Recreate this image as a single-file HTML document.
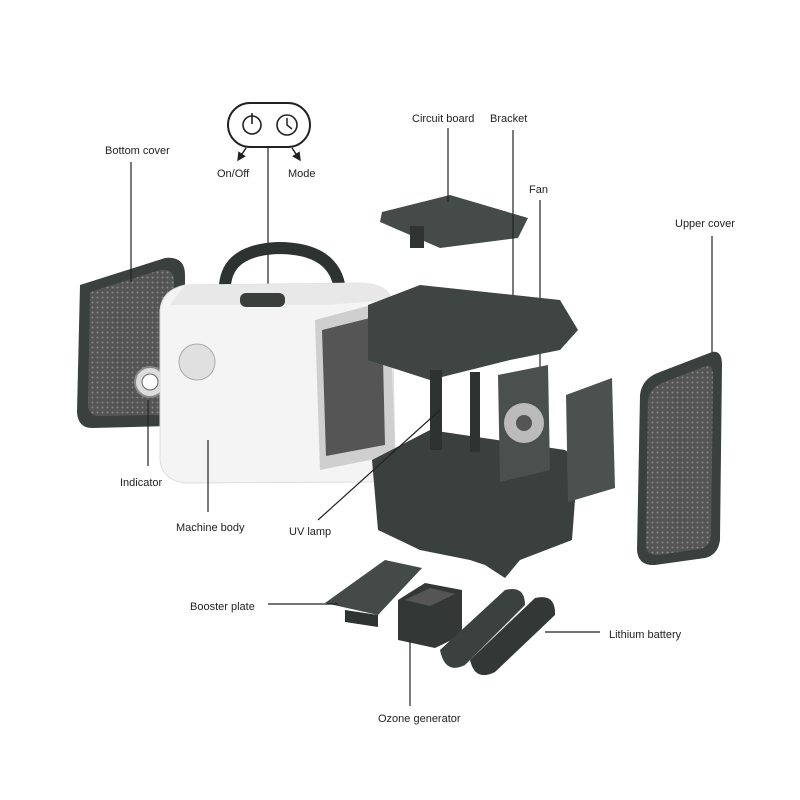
<!DOCTYPE html>
<html><head><meta charset="utf-8"><style>
html,body{margin:0;padding:0;background:#fff;}
svg{display:block}
text{font-family:"Liberation Sans",sans-serif;font-size:11px;fill:#222;}
</style></head><body>
<svg width="800" height="800" viewBox="0 0 800 800" xmlns="http://www.w3.org/2000/svg">
<defs>
<pattern id="mesh" width="5" height="5" patternUnits="userSpaceOnUse"><rect width="5" height="5" fill="#555"/><circle cx="2.5" cy="2.5" r="1" fill="#888"/></pattern>
<marker id="ar" markerWidth="6" markerHeight="6" refX="5" refY="3" orient="auto"><path d="M0,0 L6,3 L0,6 z" fill="#222"/></marker>
</defs>

<!-- Button pill -->
<rect x="228" y="103" width="82" height="44" rx="22" fill="#fff" stroke="#222" stroke-width="2"/>
<circle cx="252" cy="125" r="9" fill="none" stroke="#222" stroke-width="1.6"/>
<line x1="252" y1="113" x2="252" y2="124" stroke="#222" stroke-width="1.6"/>
<circle cx="287" cy="125" r="10" fill="none" stroke="#222" stroke-width="1.6"/>
<path d="M287,118 V125 L292,129" fill="none" stroke="#222" stroke-width="1.5"/>
<line x1="246" y1="148" x2="238" y2="160" stroke="#222" stroke-width="1.5" marker-end="url(#ar)"/>
<line x1="292" y1="148" x2="300" y2="160" stroke="#222" stroke-width="1.5" marker-end="url(#ar)"/>
<text x="217" y="177">On/Off</text>
<text x="288" y="177">Mode</text>
<line x1="268" y1="147" x2="268" y2="296" stroke="#222" stroke-width="1.2"/>

<!-- Bottom cover -->
<path d="M80,285 L165,258 Q185,256 185,275 L185,410 Q183,425 170,426 L92,428 Q78,428 77,412 Z" fill="#3a403d"/>
<path d="M90,292 L160,270 Q174,268 174,282 L174,402 Q172,414 160,415 L100,416 Q88,416 88,404 Z" fill="url(#mesh)"/>
<text x="105" y="154">Bottom cover</text>
<line x1="131" y1="162" x2="131" y2="282" stroke="#222" stroke-width="1.2"/>
<circle cx="150" cy="382" r="15" fill="#ddd" stroke="#888" stroke-width="2"/>
<circle cx="150" cy="382" r="8" fill="#fff" stroke="#666"/>
<text x="120" y="486">Indicator</text>
<line x1="148" y1="400" x2="148" y2="466" stroke="#222" stroke-width="1.2"/>

<!-- Machine body -->
<path d="M225,285 Q228,250 278,248 Q335,248 340,290" fill="none" stroke="#2d3330" stroke-width="12"/>
<path d="M160,310 Q162,290 185,285 L360,283 Q388,284 392,300 L395,460 Q394,480 370,482 L185,483 Q162,480 160,460 Z" fill="#f4f4f4" stroke="#ddd"/>
<path d="M185,285 L360,283 Q388,284 392,300 L325,305 L170,305 Z" fill="#e8e8e8"/>
<path d="M315,320 L390,300 L395,455 L320,470 Z" fill="#cfcfcf"/>
<path d="M322,330 L382,315 L385,445 L326,456 Z" fill="#555"/>
<rect x="240" y="293" width="45" height="14" rx="6" fill="#3a3f3c"/>
<circle cx="197" cy="362" r="18" fill="#e0e0e0" stroke="#aaa"/>
<text x="176" y="531">Machine body</text>
<line x1="208" y1="440" x2="208" y2="512" stroke="#222" stroke-width="1.2"/>

<!-- Circuit board -->
<path d="M382,212 L450,195 L528,218 L518,238 L440,248 L380,222 Z" fill="#454b48"/>
<rect x="410" y="226" width="14" height="22" fill="#2f3432"/>
<text x="412" y="122">Circuit board</text>
<line x1="448" y1="128" x2="448" y2="202" stroke="#222" stroke-width="1.2"/>
<text x="490" y="122">Bracket</text>
<line x1="513" y1="130" x2="513" y2="300" stroke="#222" stroke-width="1.2"/>
<text x="529" y="193">Fan</text>
<line x1="540" y1="200" x2="540" y2="398" stroke="#222" stroke-width="1.2"/>

<!-- Main frame -->
<path d="M368,305 L420,285 L560,300 L578,330 L560,350 L510,360 L430,380 L368,360 Z" fill="#3f4542"/>
<path d="M372,460 L430,430 L565,450 L578,460 L572,540 L520,560 L505,578 L485,565 L470,560 L420,550 L378,530 Z" fill="#3a403d"/>
<rect x="430" y="370" width="12" height="80" fill="#2e3331"/>
<rect x="470" y="372" width="10" height="80" fill="#2e3331"/>
<path d="M498,375 L548,365 L550,470 L500,482 Z" fill="#4a504d"/>
<circle cx="524" cy="423" r="20" fill="#bbb"/>
<circle cx="524" cy="423" r="8" fill="#555"/>
<path d="M566,395 L612,378 L615,488 L568,502 Z" fill="#4b514e"/>
<text x="289" y="535">UV lamp</text>
<line x1="318" y1="520" x2="440" y2="410" stroke="#222" stroke-width="1.2"/>

<!-- Upper cover -->
<path d="M640,395 Q642,378 660,372 L712,352 Q722,350 722,365 L720,540 Q718,555 705,558 L655,565 Q638,566 637,550 Z" fill="#3a403d"/>
<path d="M648,400 Q650,388 662,383 L706,366 Q713,365 713,375 L711,535 Q710,547 700,549 L658,555 Q646,556 646,544 Z" fill="url(#mesh)"/>
<text x="675" y="227">Upper cover</text>
<line x1="712" y1="236" x2="712" y2="352" stroke="#222" stroke-width="1.2"/>

<!-- Booster plate -->
<path d="M325,603 L385,560 L422,568 L378,615 Z" fill="#444a47"/>
<path d="M345,610 L378,615 L378,627 L345,622 Z" fill="#2f3432"/>
<text x="190" y="610">Booster plate</text>
<line x1="268" y1="604" x2="338" y2="604" stroke="#222" stroke-width="1.2"/>

<!-- Ozone generator -->
<path d="M398,600 L425,583 L462,590 L462,635 L435,648 L398,640 Z" fill="#333836"/>
<path d="M405,600 L430,588 L455,594 L430,606 Z" fill="#555"/>
<text x="378" y="722">Ozone generator</text>
<line x1="410" y1="640" x2="410" y2="706" stroke="#222" stroke-width="1.2"/>

<!-- Batteries -->
<path d="M440,650 L505,590 Q525,585 525,605 L465,665 Q445,675 440,650 Z" fill="#3b413e"/>
<path d="M470,660 L535,598 Q556,593 555,615 L495,672 Q475,682 470,660 Z" fill="#333836"/>
<text x="609" y="638">Lithium battery</text>
<line x1="545" y1="632" x2="600" y2="632" stroke="#222" stroke-width="1.2"/>
</svg>
</body></html>
